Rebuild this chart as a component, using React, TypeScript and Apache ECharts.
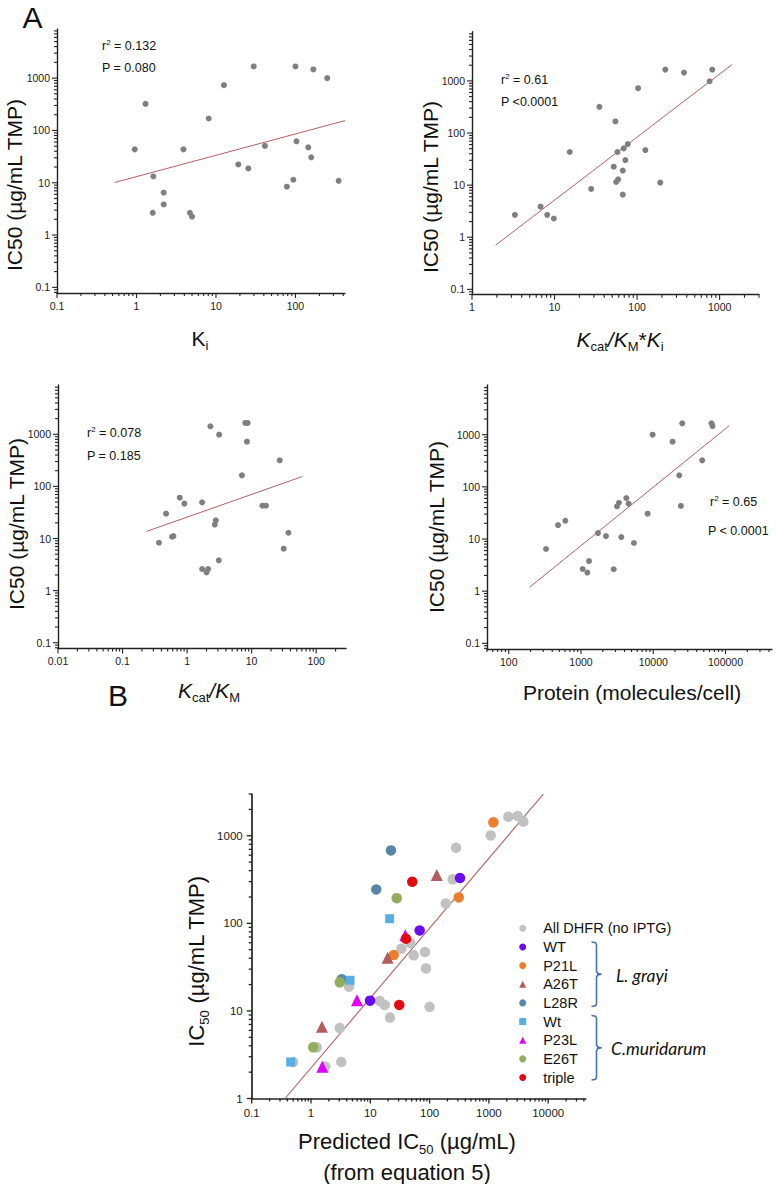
import React, { useEffect, useRef } from 'react';
import * as echarts from 'echarts';

const FONT = '"Liberation Sans", Arial, Helvetica, sans-serif';
const AX = '#222222';
const DOT = '#7f7f7f';
const FIT = '#b65f5f';

// ---------- Panel A1: Ki ----------
const kiX = [0.95, 1.3, 1.63, 1.6, 2.2, 2.2, 3.9, 4.7, 5.0, 8.1, 12.6, 19.1, 25.5, 29.8, 41.3, 78, 94, 100, 103, 145, 158, 168, 251, 349];
const kiY = [43.5, 322, 13.2, 2.66, 6.5, 3.85, 43.5, 2.66, 2.26, 169, 735, 22.4, 18.8, 1675, 50.5, 8.4, 11.4, 1675, 62, 47.5, 30.6, 1467, 1000, 10.9];
const kiFit = [[0.53, 10.1], [420, 154]];

// ---------- Panel A2: kcat/KM*Ki ----------
const effX = [3.31, 6.77, 8.15, 9.8, 15.3, 27.8, 35, 52.2, 54.7, 55.7, 57.8, 58.9, 67.1, 67.1, 69, 72.2, 77.1, 103, 126, 191, 220, 370, 757, 815];
const effY = [2.69, 3.87, 2.69, 2.29, 43.2, 8.45, 318, 22.6, 167, 11.5, 43.2, 12.9, 6.57, 19, 50.7, 30.3, 61.4, 725, 47.1, 11.2, 1648, 1443, 986, 1648];
const effFit = [[1.93, 0.705], [1410, 2054]];

// ---------- Panel A3: kcat/KM ----------
const kcatX = [0.367, 0.472, 0.585, 0.614, 0.77, 0.91, 1.71, 1.71, 2.0, 2.12, 2.3, 2.69, 2.79, 3.14, 3.1, 7.08, 7.98, 8.67, 8.46, 14.7, 16.7, 27.2, 31.4, 37.2];
const kcatY = [8.3, 30, 10.8, 11.1, 60.8, 46.7, 49.4, 2.6, 2.24, 2.6, 1425, 18.5, 22.3, 985, 3.81, 163, 1652, 1652, 723, 42.6, 42.6, 317, 6.38, 12.9];
const kcatFit = [[0.236, 13.7], [60.5, 154]];

// ---------- Panel A4: protein ----------
const protX = [328, 481, 607, 1054, 1224, 1290, 1719, 2217, 2832, 3148, 3351, 3610, 4237, 4564, 5408, 8356, 9795, 18500, 22900, 24100, 25200, 47600, 64000, 66000];
const protY = [6.43, 18.5, 22.4, 2.66, 2.27, 3.78, 13, 11.4, 2.63, 42.3, 49.6, 10.9, 61, 47.5, 8.38, 30.6, 1000, 735, 166, 43, 1650, 322, 1650, 1466];
const protFit = [[193, 1.18], [112500, 1489]];

// ---------- Panel B ----------
const allX = [3810, 3060, 2125, 1072, 279, 245, 187, 47.3, 33.4, 54, 83.6, 86.9, 4.38, 14.4, 17.5, 100, 21.5, 3.05, 1.25, 0.5, 1.74, 3.24];
const allY = [1445, 1680, 1649, 1010, 729, 318, 168, 59.6, 51.3, 43.1, 47, 30.6, 18.9, 13, 11.7, 11.1, 8.4, 6.38, 3.84, 2.61, 2.31, 2.61];
const wtX = [326, 68, 9.9];
const wtY = [329, 83, 13.1];
const p21lX = [1189, 310, 24.8];
const p21lY = [1423, 198, 43.5];
const a26tX = [132, 19.6, 1.53];
const a26tY = [357, 40.5, 6.6];
const l28rX = [22.3, 12.6, 3.3];
const l28rY = [681, 244, 23];
const cwtX = [21.2, 4.55, 0.455];
const cwtY = [113, 22.4, 2.61];
const p23lX = [38.9, 5.97, 1.55];
const p23lY = [73, 13.2, 2.31];
const e26tX = [27.9, 3.05, 1.09];
const e26tY = [194, 21.2, 3.84];
const tripleX = [51, 40, 30.8];
const tripleY = [298, 66.7, 11.7];
const bFit = [[0.365, 1], [8260, 2990]];

// ---------- tick labels ----------
const A_Y_TICKS = [0.1, 1, 10, 100, 1000];
const A1_X_TICKS = [0.1, 1, 10, 100];
const A2_X_TICKS = [1, 10, 100, 1000];
const A3_X_TICKS = [0.01, 0.1, 1, 10, 100];
const A4_X_TICKS = [100, 1000, 10000, 100000];
const B_Y_TICKS = [1, 10, 100, 1000];
const B_X_TICKS = [0.1, 1, 10, 100, 1000, 10000];

function minorTicks(min: number, max: number): number[] {
  const out: number[] = [];
  const lo = Math.floor(Math.log10(min));
  const hi = Math.ceil(Math.log10(max));
  for (let d = lo; d <= hi; d++) {
    for (let k = 2; k <= 9; k++) {
      const v = Number((k * Math.pow(10, d)).toPrecision(6));
      if (v >= min && v <= max) out.push(v);
    }
  }
  return out;
}

function fmt(v: number): string {
  return v >= 1 ? String(Math.round(v)) : String(Number(v.toPrecision(3)));
}

function zip(xs: number[], ys: number[]) {
  return xs.map((x, i) => [x, ys[i]]);
}

function axis(dim: 'x' | 'y', gridIndex: number, min: number, max: number, majors: number[], o: { fontSize: number; margin: number; lw: number }) {
  return {
    type: 'log',
    logBase: 10,
    gridIndex,
    min,
    max,
    position: dim === 'x' ? 'bottom' : 'left',
    splitLine: { show: false },
    splitArea: { show: false },
    minorTick: { show: false },
    minorSplitLine: { show: false },
    silent: true,
    axisLine: { show: true, onZero: false, lineStyle: { color: AX, width: o.lw } },
    axisTick: { show: false },
    axisLabel: { show: true, customValues: majors, margin: o.margin, fontSize: o.fontSize, fontFamily: FONT, color: '#1a1a1a', formatter: fmt },
  };
}

// custom series that draws the tick marks at the axis, positioned by the axis scale
function tickSeries(dim: 'x' | 'y', idx: number, min: number, max: number, majors: number[], otherMin: number, lw: number) {
  const vals: number[][] = [];
  majors.forEach((v) => vals.push(dim === 'x' ? [v, otherMin, 5] : [otherMin, v, 5]));
  minorTicks(min, max).forEach((v) => vals.push(dim === 'x' ? [v, otherMin, 3] : [otherMin, v, 3]));
  return {
    type: 'custom',
    xAxisIndex: idx,
    yAxisIndex: idx,
    clip: false,
    silent: true,
    z: 5,
    data: vals,
    renderItem: (_p: any, api: any) => {
      const p = api.coord([api.value(0), api.value(1)]);
      const len = api.value(2);
      const shape = dim === 'x'
        ? { x1: p[0], y1: p[1], x2: p[0], y2: p[1] + len }
        : { x1: p[0] - len, y1: p[1], x2: p[0], y2: p[1] };
      return { type: 'line', shape, style: { stroke: AX, lineWidth: lw } };
    },
  };
}

const SUB = { fontSize: 12, fontFamily: FONT, fill: '#111', lineHeight: 10, verticalAlign: 'bottom' };

function titleText(x: number, y: number, text: string, size: number, rotate = false) {
  return {
    type: 'text',
    x,
    y,
    rotation: rotate ? Math.PI / 2 : 0,
    silent: true,
    style: {
      text,
      align: 'center',
      verticalAlign: 'middle',
      fontSize: size,
      fontFamily: FONT,
      fill: '#111',
      rich: {
        n: { fontSize: size, fontFamily: FONT, fill: '#111', lineHeight: size + 7, verticalAlign: 'middle' },
        it: { fontSize: size, fontFamily: FONT, fontStyle: 'italic', fill: '#111', lineHeight: size + 7, verticalAlign: 'middle' },
        s: { ...SUB, fontSize: Math.round(size * 0.6) },
      },
    },
  };
}

function statText(x: number, y: number, text: string) {
  return {
    type: 'text',
    x,
    y,
    silent: true,
    style: {
      text,
      align: 'left',
      verticalAlign: 'middle',
      fontSize: 12.5,
      fontFamily: FONT,
      fill: '#111',
      rich: {
        n: { fontSize: 12.5, fontFamily: FONT, fill: '#111', lineHeight: 16, verticalAlign: 'middle' },
        sup: { fontSize: 8, fontFamily: FONT, fill: '#111', lineHeight: 8, verticalAlign: 'top' },
      },
    },
  };
}

function bracket(x: number, top: number, bottom: number) {
  const mid = (top + bottom) / 2;
  return {
    type: 'polyline',
    silent: true,
    shape: {
      points: [
        [x - 5, top], [x - 1, top + 0.6], [x, top + 3], [x, mid - 3], [x + 1.2, mid - 0.8], [x + 5, mid],
        [x + 1.2, mid + 0.8], [x, mid + 3], [x, bottom - 3], [x - 1, bottom - 0.6], [x - 5, bottom],
      ],
    },
    style: { stroke: '#4a70b5', lineWidth: 1.6, fill: 'none' },
  };
}

function buildOption(): any {
  const grids = [
    { left: 57, top: 29, width: 288, height: 264 },
    { left: 472, top: 31.7, width: 287, height: 263 },
    { left: 58, top: 385, width: 288, height: 263.5 },
    { left: 487, top: 385, width: 285, height: 264 },
    { left: 251.7, top: 794, width: 334, height: 304.5 },
  ];
  const aOpt = { fontSize: 10.5, margin: 7, lw: 1.4 };
  const bOptY = { fontSize: 11.5, margin: 9, lw: 1.7 };
  const bOptX = { fontSize: 11.5, margin: 8, lw: 1.7 };

  const ranges = [
    { x: [0.1, 420], y: [0.078, 8700], xt: A1_X_TICKS, yt: A_Y_TICKS },
    { x: [1, 3000], y: [0.079, 8800], xt: A2_X_TICKS, yt: A_Y_TICKS },
    { x: [0.01, 290], y: [0.0775, 8830], xt: A3_X_TICKS, yt: A_Y_TICKS },
    { x: [50, 440000], y: [0.0778, 8970], xt: A4_X_TICKS, yt: A_Y_TICKS },
    { x: [0.1, 42900], y: [1, 3000], xt: B_X_TICKS, yt: B_Y_TICKS },
  ];

  const xAxis = ranges.map((r, i) => axis('x', i, r.x[0], r.x[1], r.xt, i === 4 ? bOptX : aOpt));
  const yAxis = ranges.map((r, i) => axis('y', i, r.y[0], r.y[1], r.yt, i === 4 ? bOptY : aOpt));

  const series: any[] = [];
  ranges.forEach((r, i) => {
    const lw = i === 4 ? 1.3 : 1.1;
    series.push(tickSeries('x', i, r.x[0], r.x[1], r.xt, r.y[0], lw));
    series.push(tickSeries('y', i, r.y[0], r.y[1], r.yt, r.x[0], lw));
  });

  const aPanels = [
    { x: kiX, y: kiY, fit: kiFit },
    { x: effX, y: effY, fit: effFit },
    { x: kcatX, y: kcatY, fit: kcatFit },
    { x: protX, y: protY, fit: protFit },
  ];

  aPanels.forEach((p, i) => {
    series.push({
      type: 'line',
      xAxisIndex: i,
      yAxisIndex: i,
      data: p.fit,
      symbol: 'none',
      lineStyle: { color: FIT, width: 1 },
      silent: true,
      z: 1,
    });
    series.push({
      type: 'scatter',
      xAxisIndex: i,
      yAxisIndex: i,
      data: zip(p.x, p.y),
      symbol: 'circle',
      symbolSize: 6,
      itemStyle: { color: DOT, opacity: 1 },
      silent: true,
      z: 2,
    });
  });

  series.push({
    type: 'line',
    xAxisIndex: 4,
    yAxisIndex: 4,
    data: bFit,
    symbol: 'none',
    lineStyle: { color: FIT, width: 1.1 },
    silent: true,
    z: 1,
  });

  const groups = [
    { name: 'All DHFR (no IPTG)', x: allX, y: allY, color: '#c1c1c1', symbol: 'circle', size: 10.5 },
    { name: 'WT', x: wtX, y: wtY, color: '#6a0cf2', symbol: 'circle', size: 10.5 },
    { name: 'P21L', x: p21lX, y: p21lY, color: '#ec7f2e', symbol: 'circle', size: 10.5 },
    { name: 'A26T', x: a26tX, y: a26tY, color: '#b35c5e', symbol: 'triangle', size: 12 },
    { name: 'L28R', x: l28rX, y: l28rY, color: '#5a86a6', symbol: 'circle', size: 10.5 },
    { name: 'Wt', x: cwtX, y: cwtY, color: '#56aee2', symbol: 'rect', size: 9 },
    { name: 'P23L', x: p23lX, y: p23lY, color: '#e100ff', symbol: 'triangle', size: 12 },
    { name: 'E26T', x: e26tX, y: e26tY, color: '#92ae5c', symbol: 'circle', size: 10.5 },
    { name: 'triple', x: tripleX, y: tripleY, color: '#e30a12', symbol: 'circle', size: 10.5 },
  ];
  groups.forEach((g, i) => {
    series.push({
      type: 'scatter',
      name: g.name,
      xAxisIndex: 4,
      yAxisIndex: 4,
      data: zip(g.x, g.y),
      symbol: g.symbol,
      symbolSize: g.size,
      itemStyle: { color: g.color, opacity: 1 },
      silent: true,
      z: 2 + i,
    });
  });

  const graphic: any[] = [
    { type: 'text', x: 32.5, y: 17, silent: true, style: { text: 'A', fontSize: 30, fontFamily: FONT, fill: '#111', align: 'center', verticalAlign: 'middle' } },
    { type: 'text', x: 118, y: 695, silent: true, style: { text: 'B', fontSize: 30, fontFamily: FONT, fill: '#111', align: 'center', verticalAlign: 'middle' } },
    statText(102, 46, '{n|r}{sup|2}{n| = 0.132}'),
    statText(102, 68, '{n|P = 0.080}'),
    statText(501, 80, '{n|r}{sup|2}{n| = 0.61}'),
    statText(501, 102, '{n|P <0.0001}'),
    statText(87, 433, '{n|r}{sup|2}{n| = 0.078}'),
    statText(87, 456, '{n|P = 0.185}'),
    statText(710, 502, '{n|r}{sup|2}{n| = 0.65}'),
    statText(708, 531, '{n|P < 0.0001}'),
    titleText(14, 185, '{n|IC50 (µg/mL TMP)}', 21, true),
    titleText(430, 187, '{n|IC50 (µg/mL TMP)}', 21, true),
    titleText(16.5, 524, '{n|IC50 (µg/mL TMP)}', 21, true),
    titleText(436, 527, '{n|IC50 (µg/mL TMP)}', 21, true),
    titleText(200, 338, '{n|K}{s|i}', 21),
    titleText(620, 339, '{it|K}{s|cat}{it|/K}{s|M}{n|*}{it|K}{s|i}', 21),
    titleText(209, 690, '{it|K}{s|cat}{it|/K}{s|M}', 21),
    titleText(632, 692, '{n|Protein (molecules/cell)}', 21),
    titleText(196, 961, '{n|IC}{s|50}{n| (µg/mL TMP)}', 22, true),
    titleText(407, 1141, '{n|Predicted IC}{s|50}{n| (µg/mL)}', 22),
    titleText(407, 1172, '{n|(from equation 5)}', 22),
    bracket(596.5, 942, 1006.5),
    bracket(596.5, 1015.5, 1080),
    { type: 'text', x: 616, y: 975, silent: true, style: { text: 'L. grayi', fontSize: 17.5, fontStyle: 'italic', fontFamily: 'Lato, "Open Sans", sans-serif', fill: '#111', align: 'left', verticalAlign: 'middle' } },
    { type: 'text', x: 611, y: 1048, silent: true, style: { text: 'C.muridarum', fontSize: 17.5, fontStyle: 'italic', fontFamily: 'Lato, "Open Sans", sans-serif', fill: '#111', align: 'left', verticalAlign: 'middle' } },
  ];

  return {
    animation: false,
    backgroundColor: '#ffffff',
    grid: grids.map((g) => ({ ...g, containLabel: false, show: false })),
    xAxis,
    yAxis,
    legend: {
      orient: 'vertical',
      left: 519.2,
      top: 920.8,
      padding: 0,
      itemWidth: 7,
      itemHeight: 7,
      itemGap: 3.65,
      selectedMode: false,
      textStyle: { fontSize: 14.5, fontFamily: FONT, color: '#111', lineHeight: 14, padding: [0, 0, 0, 12] },
      data: groups.map((g) => g.name),
    },
    series,
    graphic,
  };
}

export default function App() {
  const ref = useRef<HTMLDivElement>(null);
  useEffect(() => {
    document.body.style.margin = '0';
    if (!ref.current) return;
    const chart = echarts.init(ref.current, undefined, { renderer: 'svg' });
    chart.setOption(buildOption());
    return () => chart.dispose();
  }, []);
  return <div ref={ref} style={{ position: 'absolute', left: 0, top: 0, width: 777, height: 1184, background: '#fff' }} />;
}
